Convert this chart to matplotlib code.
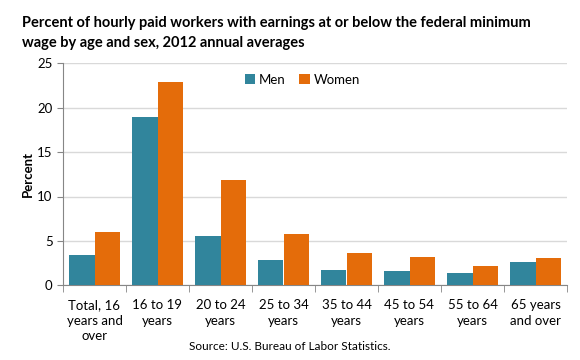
import matplotlib
matplotlib.use("Agg")
import matplotlib.pyplot as plt
import numpy as np
from matplotlib.ticker import FixedLocator

categories = ["Total, 16\nyears and\nover", "16 to 19\nyears", "20 to 24\nyears", "25 to 34\nyears",
              "35 to 44\nyears", "45 to 54\nyears", "55 to 64\nyears", "65 years\nand over"]
men = [3.4, 19.0, 5.5, 2.8, 1.7, 1.6, 1.4, 2.6]
women = [6.0, 22.9, 11.9, 5.8, 3.6, 3.2, 2.2, 3.1]
yticks = [0, 5, 10, 15, 20, 25]

plt.rcParams['font.family'] = ['Lato', 'DejaVu Sans']

fig = plt.figure(figsize=(5.8, 3.6), dpi=100)
ax = fig.add_axes([63/580, 1-285.3/360, (567-63)/580, (285.3-63.3)/360])

x = np.arange(len(categories))
w = 0.4
ax.bar(x - w/2, men, w, color="#31859C", label="Men", zorder=3)
ax.bar(x + w/2, women, w, color="#E46C0A", label="Women", zorder=3)

ax.set_xlim(-0.5, len(categories) - 0.5)
ax.set_ylim(0, 25)
ax.set_yticks(yticks)
ax.yaxis.grid(True, color="#D9D9D9", linewidth=1, zorder=0)
ax.set_axisbelow(True)
for s in ["top", "right"]:
    ax.spines[s].set_visible(False)
for s in ["left", "bottom"]:
    ax.spines[s].set_color("#868686")
ax.tick_params(axis="y", colors="#868686", labelcolor="black", labelsize=9.5, length=4, direction="out")
ax.set_xticks(x)
ax.set_xticklabels(categories, fontsize=9.5, linespacing=1.35)
ax.tick_params(axis="x", length=0, pad=10)
ax.xaxis.set_minor_locator(FixedLocator(np.arange(-0.5, len(categories), 1.0)))
ax.tick_params(axis="x", which="minor", length=5, color="#868686", direction="out")

ax.set_ylabel("Percent", fontsize=9.5, fontweight="bold")
ax.yaxis.set_label_coords(-0.058, 0.5)

ax.legend(loc="center", bbox_to_anchor=(0.475, 0.925), ncol=2, frameon=False, fontsize=9.5,
          handlelength=0.8, handleheight=0.8, handletextpad=0.3, columnspacing=1.0)

fig.text(22/580, 1-33/360, "Percent of hourly paid workers with earnings at or below the federal minimum\nwage by age and sex, 2012 annual averages",
         fontsize=10.5, fontweight="bold", va="center", ha="left", linespacing=1.55)
fig.text(290/580, 1-346/360, "Source: U.S. Bureau of Labor Statistics.", fontsize=8.5, ha="center", va="center")

fig.savefig("out.png", dpi=100)
